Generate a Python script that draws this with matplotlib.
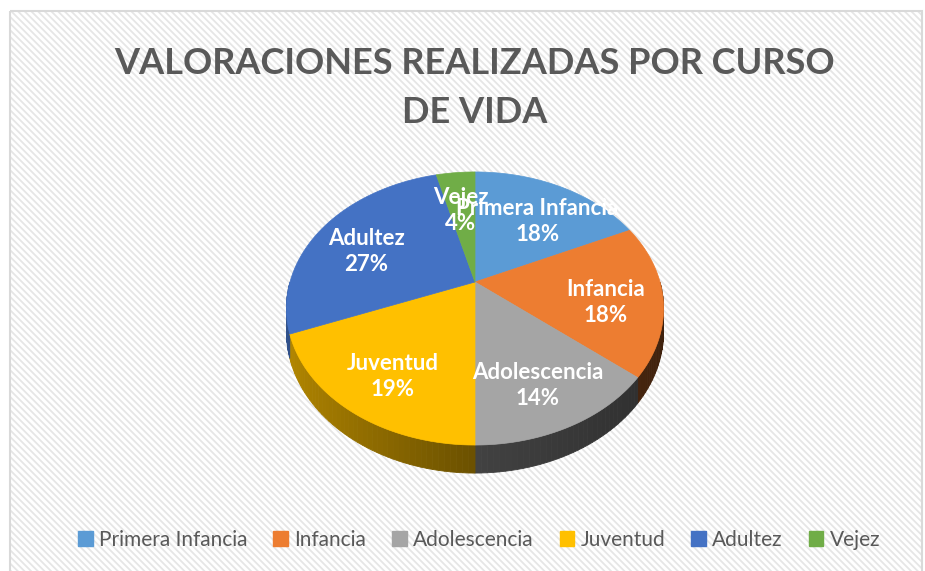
import matplotlib
matplotlib.use("Agg")
import matplotlib.pyplot as plt
import numpy as np
from matplotlib.patches import Polygon, Rectangle, Patch

categories = ["Primera Infancia", "Infancia", "Adolescencia", "Juventud", "Adultez", "Vejez"]
values = [18, 18, 14, 19, 27, 4]
colors = ["#5B9BD5", "#ED7D31", "#A5A5A5", "#FFC000", "#4472C4", "#70AD47"]
title = "VALORACIONES REALIZADAS POR CURSO\nDE VIDA"

plt.rcParams["font.family"] = ["Lato", "DejaVu Sans"]
plt.rcParams["hatch.linewidth"] = 1.3

W, H = 925, 571
fig = plt.figure(figsize=(W / 100, H / 100), dpi=100)
ax = fig.add_axes([0, 0, 1, 1])
ax.set_xlim(0, W)
ax.set_ylim(H, 0)
ax.axis("off")

# chart area: diagonal light stripes + thin grey border
ax.add_patch(Rectangle((10, 11), 912, 575, facecolor="white", edgecolor="#e6e6e6",
                       hatch="\\\\\\\\\\", lw=0, zorder=0))
ax.add_patch(Rectangle((10, 11), 912, 575, facecolor="none", edgecolor="#d9d9d9",
                       lw=1.5, zorder=1))

ax.text(475, 88, title, ha="center", va="center", fontsize=26, fontweight="bold",
        color="#595959", linespacing=1.6, zorder=5)

# perspective pie geometry
cx, cy = 475, 282
rx, ry = 185, 131.4
persp = 0.194
depth = 22.6


def proj(u, v, z=0.0):
    s = 1.0 / (1.0 + persp * v)
    return cx + rx * u * s, cy - ry * v * s + depth * z * s


total = float(sum(values))
fracs = [v / total for v in values]
starts = np.cumsum([0] + fracs[:-1]) * 360.0  # degrees clockwise from 12 o'clock


def shade(theta):
    s = np.sin(np.radians(theta))
    return 0.42 - 0.3 * s if s < 0 else 0.40 - 0.14 * s


def darker(col, f):
    rgb = np.array(matplotlib.colors.to_rgb(col))
    return tuple(np.clip(rgb * f, 0, 1))


# side walls (front half only)
for i, (st, fr) in enumerate(zip(starts, fracs)):
    en = st + fr * 360.0
    a0, a1 = max(st, 90.0), min(en, 270.0)
    if a1 <= a0:
        continue
    edges = np.linspace(a0, a1, max(2, int((a1 - a0) / 1.5) + 1))
    for t0, t1 in zip(edges[:-1], edges[1:]):
        pts = []
        for t in (t0, t1):
            r = np.radians(t)
            pts.append(proj(np.sin(r), np.cos(r), 0))
        for t in (t1, t0):
            r = np.radians(t)
            pts.append(proj(np.sin(r), np.cos(r), 1))
        c = darker(colors[i], shade((t0 + t1) / 2))
        ax.add_patch(Polygon(pts, closed=True, facecolor=c, edgecolor=c, lw=0.6, zorder=2))

# top faces
for i, (st, fr) in enumerate(zip(starts, fracs)):
    th = np.radians(np.linspace(st, st + fr * 360.0, 120))
    pts = [proj(0, 0)] + [proj(np.sin(t), np.cos(t)) for t in th]
    ax.add_patch(Polygon(pts, closed=True, facecolor=colors[i], edgecolor=colors[i],
                         lw=0.5, zorder=3))

# data labels
for i, (st, fr) in enumerate(zip(starts, fracs)):
    mid = np.radians(st + fr * 180.0)
    x, y = proj(0.7 * np.sin(mid), 0.7 * np.cos(mid))
    ax.text(x, y + 9, f"{categories[i]}\n{values[i] / total * 100:.0f}%", ha="center",
            va="center", color="white", fontsize=16, fontweight="bold",
            linespacing=1.3, zorder=6)

handles = [Patch(facecolor=c, edgecolor=c) for c in colors]
fig.legend(handles, categories, loc="center", bbox_to_anchor=(479 / W, 1 - 540 / H),
           ncol=6, frameon=False, fontsize=15, labelcolor="#595959",
           handlelength=0.7, handleheight=0.7, handletextpad=0.3, columnspacing=1.25)

fig.savefig("out.png", dpi=100)
